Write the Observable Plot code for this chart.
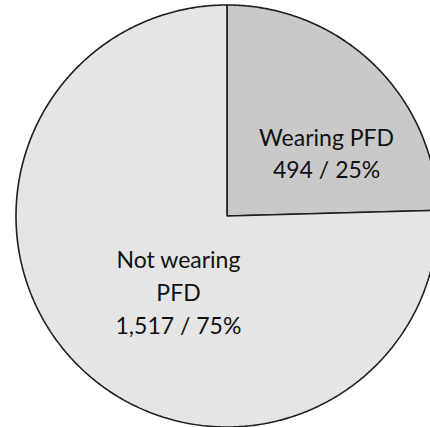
<!DOCTYPE html>
<html>
<head>
<meta charset="utf-8">
<script src="https://cdn.jsdelivr.net/npm/d3@7"></script>
<script src="https://cdn.jsdelivr.net/npm/@observablehq/plot@0.6"></script>
<style>
  html, body { margin: 0; padding: 0; background: #fff; }
</style>
</head>
<body>
<div id="chart"></div>
<script>
// Data
const slices = ["Wearing PFD", "Not wearing PFD"];
const counts = [494, 1517];
const percents = [25, 75];
const labelLines = [["Wearing PFD"], ["Not wearing", "PFD"]];
const sliceColors = ["#c9c9c9", "#e5e5e5"];

// Layout (not data)
const W = 430, H = 427;
const cx = 226.5, cy = 215.5, R = 211;
const labelPos = [[0.472, 0.306], [-0.23, -0.353]];

const pie = d3.pie().sort(null).value(d => d)(counts);
const poly = [];
pie.forEach((p, i) => {
  const n = Math.max(2, Math.ceil((p.endAngle - p.startAngle) / (Math.PI / 360)));
  poly.push({slice: slices[i], x: 0, y: 0});
  for (let k = 0; k <= n; k++) {
    const a = p.startAngle + (p.endAngle - p.startAngle) * k / n;
    poly.push({slice: slices[i], x: Math.sin(a), y: Math.cos(a)});
  }
  poly.push({slice: slices[i], x: 0, y: 0});
});

const fmt = d3.format(",");
const labels = slices.map((s, i) => ({
  slice: s,
  text: labelLines[i].join("\n") + "\n" + fmt(counts[i]) + " / " + percents[i] + "%",
  x: labelPos[i][0],
  y: labelPos[i][1]
}));

const plot = Plot.plot({
  width: W,
  height: H,
  margin: 0,
  style: {background: "#fff", fontFamily: "Lato, 'Open Sans', sans-serif"},
  x: {domain: [-1, 1], range: [cx - R, cx + R], axis: null},
  y: {domain: [-1, 1], range: [cy + R, cy - R], axis: null},
  color: {domain: slices, range: sliceColors},
  marks: [
    Plot.line(poly, {
      x: "x", y: "y", z: "slice",
      fill: "slice",
      stroke: "#1e1e1e",
      strokeWidth: 1.6,
      strokeLinejoin: "miter",
      curve: "linear-closed"
    }),
    Plot.text(labels, {
      x: "x", y: "y", text: "text",
      fontSize: 23,
      lineHeight: 1.43,
      lineAnchor: "middle",
      textAnchor: "middle",
      fill: "#111"
    })
  ]
});
document.getElementById("chart").appendChild(plot);
</script>
</body>
</html>
